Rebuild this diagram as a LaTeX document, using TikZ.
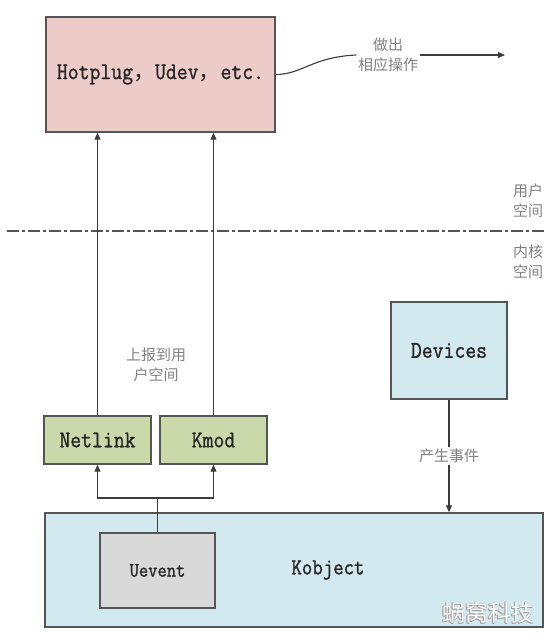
\documentclass[tikz,border=0pt]{standalone}
\usepackage{fontspec}
\newfontfamily\cjk{Noto Sans CJK SC}
\newfontfamily\lmono{Latin Modern Mono}[FakeBold=1.1,FakeStretch=0.88]
\usetikzlibrary{arrows.meta}
\definecolor{pinkfill}{HTML}{EDCBC9}
\definecolor{greenfill}{HTML}{CBD9AA}
\definecolor{bluefill}{HTML}{D3E9F0}
\definecolor{grayfill}{HTML}{D9D9D9}
\definecolor{edgecol}{HTML}{555555}
\definecolor{conncol}{HTML}{3C3C3C}
\definecolor{labelgray}{HTML}{808080}
\definecolor{wmgray}{HTML}{A0A0A0}
\begin{document}
\begin{tikzpicture}[x=1pt,y=-1pt,
  box/.style={draw=edgecol, line width=1.4pt, inner sep=0pt,
    font=\lmono\fontsize{24}{28}\selectfont, text=black!85},
  conn/.style={draw=conncol, line width=1.1pt},
  arr/.style={conn, -{Triangle[length=7pt,width=6pt]}},
  cnlabel/.style={font=\cjk\fontsize{15}{20}\selectfont, text=labelgray,
    align=center, inner sep=1.5pt},
  wmtext/.style={font=\cjk\fontsize{23}{23}\selectfont, inner sep=0pt},
]
\useasboundingbox (0,0) rectangle (552,638);

% top box
\node[box, fill=pinkfill, minimum width=229pt, minimum height=115pt] (hot) at (160.5,74.5)
  {Hotplug{\cjk\fontsize{22}{26}\selectfont ，}Udev{\cjk\fontsize{22}{26}\selectfont ，}etc.};

% action label and arrow
\node[cnlabel] (act) at (388,55) {做出\\相应操作};
\coordinate (actout) at (505,55);
\draw[conn] (hot.east) .. controls (302,74.5) and (312,57) .. (act.west);
\draw[arr] (act.east) -- (actout);

% separator
\coordinate (dl) at (7,231);
\coordinate (dr) at (545,231);
\draw[draw=edgecol, line width=1.2pt, dash pattern=on 12pt off 3pt on 3pt off 3pt] (dl) -- (dr);
\node[cnlabel] (user) at (528,201) {用户\\空间};
\node[cnlabel] (kern) at (528,262) {内核\\空间};

% Netlink / Kmod
\node[box, fill=greenfill, minimum width=107pt, minimum height=48pt] (net) at (97.5,440) {Netlink};
\node[box, fill=greenfill, minimum width=107pt, minimum height=48pt] (kmod) at (213.5,440) {Kmod};
\draw[arr] (net.north) -- (net.north |- hot.south);
\draw[arr] (kmod.north) -- (kmod.north |- hot.south);
\node[cnlabel] (report) at (156,365) {上报到用\\户空间};

% Devices
\node[box, fill=bluefill, minimum width=116pt, minimum height=97pt] (dev) at (449,350.5) {Devices};

% Kobject
\node[box, fill=bluefill, minimum width=498pt, minimum height=114pt] (kobj) at (294,570) {};
\node[font=\lmono\fontsize{23}{27}\selectfont, text=black!85, inner sep=0pt] (kobjtext) at (328,570) {Kobject};
\node[box, fill=grayfill, minimum width=115pt, minimum height=75pt,
  font=\lmono\fontsize{20.5}{24}\selectfont] (uev) at (157.5,570.5) {Uevent};

\draw[arr] (dev.south) -- node[cnlabel, fill=white, inner sep=2.5pt] (evt) {产生事件} (dev.south |- kobj.north);

% Uevent branch
\coordinate (br) at (157.5,498);
\draw[conn] (uev.north) -- (br);
\draw[arr] (br) -| (net.south);
\draw[arr] (br) -| (kmod.south);

% watermark
\node[wmtext, text=wmgray] (wma) at (487.4,612.4) {蜗窝科技};
\node[wmtext, text=wmgray] (wmb) at (488.6,612.4) {蜗窝科技};
\node[wmtext, text=wmgray] (wmc) at (487.4,613.6) {蜗窝科技};
\node[wmtext, text=wmgray] (wmd) at (488.6,613.6) {蜗窝科技};
\node[wmtext, text=white] (wm) at (488,613) {蜗窝科技};
\end{tikzpicture}
\end{document}
